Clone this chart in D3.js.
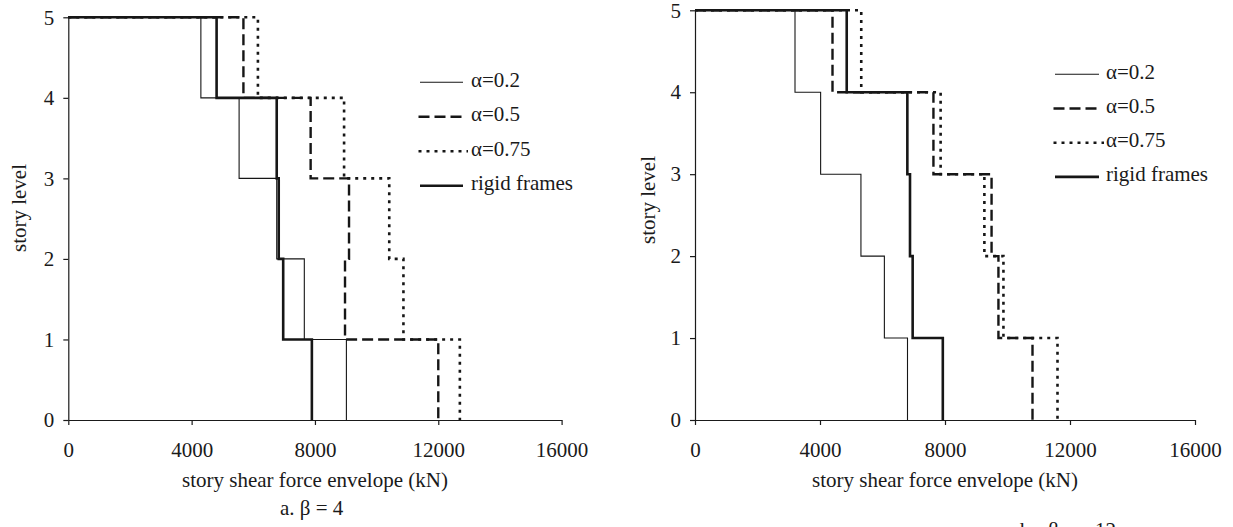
<!DOCTYPE html>
<html>
<head>
<meta charset="utf-8">
<script src="https://cdn.jsdelivr.net/npm/d3@7/dist/d3.min.js"></script>
<style>
  html, body { margin: 0; padding: 0; background: #fff; }
  svg { display: block; }
  svg text { font-family: "Liberation Serif", Tinos, "Times New Roman", "DejaVu Serif", serif !important; fill: #1a1a1a; }
</style>
</head>
<body>
<svg id="chart" width="1233" height="527" font-family="Liberation Serif, serif"></svg>
<script>
// Story levels and force ticks shared by both panels
const levelTicks = [0, 1, 2, 3, 4, 5];
const forceTicks = [0, 4000, 8000, 12000, 16000];
const seriesNames = ["α=0.2", "α=0.5", "α=0.75", "rigid frames"];

// Shear envelope per story (story 1 .. story 5), kN — β = 4
const beta4Alpha02 = [9020, 7655, 6760, 5540, 4300];
const beta4Alpha05 = [12000, 8975, 9105, 7860, 5680];
const beta4Alpha075 = [12700, 10870, 10410, 8945, 6150];
const beta4Rigid = [7900, 6970, 6825, 6760, 4810];

// Shear envelope per story (story 1 .. story 5), kN — β = 12
const beta12Alpha02 = [6800, 6060, 5310, 4020, 3200];
const beta12Alpha05 = [10800, 9710, 9490, 7630, 4400];
const beta12Alpha075 = [11600, 9870, 9260, 7860, 5320];
const beta12Rigid = [7930, 6965, 6880, 6795, 4855];

const captions = ["a. β = 4", "b. β = 12"];

// Line styles for the four series
const styles = [
  { width: 1.1, dash: null },
  { width: 2.4, dash: "11,5" },
  { width: 2.6, dash: "3,5" },
  { width: 2.6, dash: null }
];

const svg = d3.select("#chart");
const FONT = 21;
const SERIF = '"Liberation Serif", Tinos, "Times New Roman", serif';

const panels = [
  {
    series: [beta4Alpha02, beta4Alpha05, beta4Alpha075, beta4Rigid],
    left: 68.3, right: 561.6, top: 17.3, bottom: 420,
    yTitleX: 19, yTitleY: 208,
    legendX: 420, legendLen: 43, legendTextX: 471, legendY: 82.3, legendStep: 34.5,
    caption: captions[0], captionX: 280, captionY: 515, captionSpacing: 0
  },
  {
    series: [beta12Alpha02, beta12Alpha05, beta12Alpha075, beta12Rigid],
    left: 695, right: 1195, top: 10.3, bottom: 420,
    yTitleX: 648, yTitleY: 200,
    legendX: 1055, legendLen: 44, legendTextX: 1106, legendY: 74.3, legendStep: 34.2,
    caption: captions[1], captionX: 1020, captionY: 537, captionSpacing: 7
  }
];

// Turn per-story values into a stepped outline from the roof down to the base
function stepPoints(values) {
  const pts = [[0, values.length]];
  for (let i = values.length - 1; i >= 0; i--) {
    pts.push([values[i], i + 1]);
    pts.push([values[i], i]);
  }
  return pts;
}

panels.forEach(p => {
  const x = d3.scaleLinear().domain([0, 16000]).range([p.left, p.right]);
  const y = d3.scaleLinear().domain([0, 5]).range([p.bottom, p.top]);
  const g = svg.append("g");

  // axes
  const xAxis = d3.axisBottom(x).tickValues(forceTicks).tickFormat(d3.format("d"))
    .tickSize(5).tickSizeOuter(0).tickPadding(17);
  const yAxis = d3.axisLeft(y).tickValues(levelTicks).tickFormat(d3.format("d"))
    .tickSize(5).tickSizeOuter(0).tickPadding(9);

  const gx = g.append("g").attr("transform", `translate(0,${p.bottom})`).call(xAxis);
  const gy = g.append("g").attr("transform", `translate(${p.left},0)`).call(yAxis);
  [gx, gy].forEach(a => {
    a.attr("font-family", SERIF).attr("font-size", FONT);
    a.selectAll("path.domain").attr("stroke", "#1a1a1a").attr("stroke-width", 1.2);
    a.selectAll(".tick line").attr("stroke", "#1a1a1a").attr("stroke-width", 1.2);
    a.selectAll(".tick text")
      .style("font-family", SERIF)
      .style("font-size", FONT + "px")
      .attr("fill", "#1a1a1a");
  });

  // series
  const line = d3.line().x(d => x(d[0])).y(d => y(d[1]));
  p.series.forEach((vals, i) => {
    g.append("path")
      .attr("d", line(stepPoints(vals)))
      .attr("fill", "none")
      .attr("stroke", "#161616")
      .attr("stroke-width", styles[i].width)
      .attr("stroke-dasharray", styles[i].dash)
      .attr("stroke-linejoin", "miter");
  });

  // axis titles
  g.append("text")
    .attr("x", (p.left + p.right) / 2)
    .attr("y", 487)
    .attr("text-anchor", "middle")
    .style("font-family", SERIF)
    .style("font-size", FONT + "px")
    .text("story shear force envelope (kN)");

  g.append("text")
    .attr("transform", `translate(${p.yTitleX + 7},${p.yTitleY}) rotate(-90)`)
    .attr("text-anchor", "middle")
    .style("font-family", SERIF)
    .style("font-size", FONT + "px")
    .text("story level");

  // legend
  const lg = g.append("g");
  seriesNames.forEach((name, i) => {
    const ly = p.legendY + i * p.legendStep;
    lg.append("line")
      .attr("x1", p.legendX - (styles[i].dash ? 1.5 : 0))
      .attr("x2", p.legendX + p.legendLen + (i === 2 ? 5 : 0))
      .attr("y1", ly).attr("y2", ly)
      .attr("stroke", "#161616")
      .attr("stroke-width", styles[i].width)
      .attr("stroke-dasharray", styles[i].dash);
    lg.append("text")
      .attr("x", p.legendTextX)
      .attr("y", ly + 4.5)
      .style("font-family", SERIF)
      .style("font-size", FONT + "px")
      .text(name);
  });

  // panel caption
  g.append("text")
    .attr("x", p.captionX)
    .attr("y", p.captionY)
    .style("font-family", SERIF)
    .style("font-size", FONT + "px")
    .style("word-spacing", p.captionSpacing + "px")
    .text(p.caption);
});
</script>
</body>
</html>
